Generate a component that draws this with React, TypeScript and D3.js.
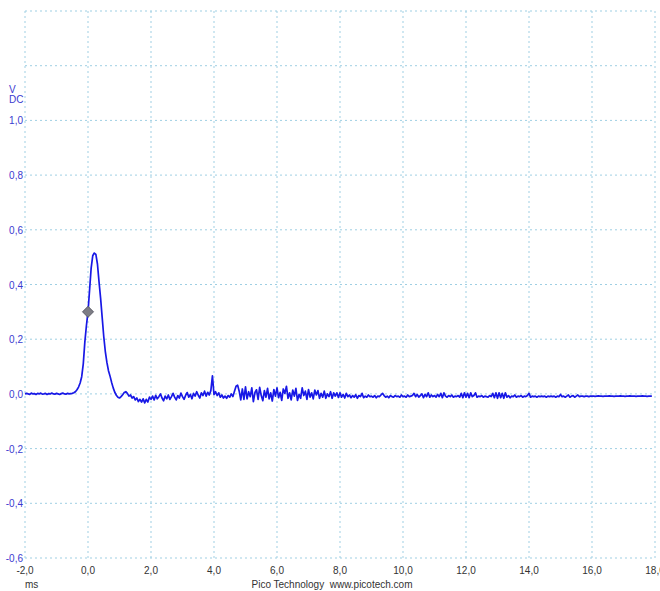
import React from "react";
import * as d3 from "d3";

// Oscilloscope trace (Pico Technology) — time in ms, voltage in V DC
const sampleStart = -2.0; // ms
const sampleStep = 0.05; // ms
const voltage: number[] = [
  // -2.0 .. -1.05
  0, 0.002, 0, -0.002, 0.003, 0, 0.001, -0.002, 0.002, 0, 0.003, -0.001, 0, 0.002, -0.002, 0.001, 0, 0.003, 0, -0.001,
  // -1.0 .. -0.05
  0.002, 0, -0.002, 0.001, 0.003, 0, -0.001, 0.002, 0, 0.001, 0.002, 0.004, 0.008, 0.015, 0.025, 0.04, 0.063, 0.11, 0.19, 0.25,
  // 0.0 .. 0.95
  0.3, 0.38, 0.46, 0.505, 0.515, 0.51, 0.475, 0.41, 0.35, 0.28, 0.21, 0.155, 0.115, 0.085, 0.065, 0.042, 0.022, 0.006, -0.005, -0.012,
  // 1.0 .. 1.95
  -0.015, -0.01, -0.003, 0.005, 0.008, 0.002, -0.008, -0.004, -0.015, -0.01, -0.022, -0.015, -0.028, -0.02, -0.03, -0.018, -0.033, -0.02, -0.03, -0.012,
  // 2.0 .. 2.95
  -0.02, -0.008, -0.022, -0.005, -0.018, -0.01, 0.0, -0.015, -0.025, -0.008, -0.018, -0.004, -0.02, -0.01, 0.002, -0.012, -0.022, -0.006, -0.015, 0.003,
  // 3.0 .. 3.95
  -0.01, -0.02, -0.005, 0.005, -0.012, -0.002, -0.018, 0.002, -0.008, 0.008, -0.005, -0.015, 0.004, -0.006, 0.01, -0.008, 0.006, -0.004, 0.012, 0.066,
  // 4.0 .. 4.95
  -0.003, 0.008, -0.006, 0.004, -0.012, -0.004, -0.015, -0.008, -0.016, -0.006, -0.012, 0.0, -0.01, 0.01, 0.028, 0.032, 0.01, -0.022, 0.018, -0.02,
  // 5.0 .. 5.95
  0.026, -0.018, 0.008, -0.01, 0.022, -0.028, 0.005, 0.015, -0.02, 0.024, -0.006, -0.025, 0.012, -0.012, 0.02, -0.018, 0.004, -0.026, 0.016, -0.008,
  // 6.0 .. 6.95
  0.022, -0.014, 0.006, -0.024, 0.018, 0.002, 0.028, -0.016, 0.004, -0.022, 0.014, -0.008, 0.02, -0.024, -0.002, -0.016, 0.022, -0.006, 0.01, -0.02,
  // 7.0 .. 7.95
  0.016, -0.012, 0.004, -0.018, 0.014, -0.004, 0.012, -0.016, 0.002, -0.012, 0.01, -0.016, 0.0, -0.01, 0.008, -0.016, 0.004, -0.008, 0.004, -0.013,
  // 8.0 .. 8.95
  0.004, -0.012, -0.002, -0.015, 0.002, -0.01, -0.004, -0.014, -0.006, -0.012, -0.003, -0.016, -0.006, -0.01, 0.002, -0.014, -0.008, -0.012, -0.004, -0.01,
  // 9.0 .. 9.95
  -0.008, -0.012, -0.006, -0.014, -0.008, -0.01, -0.004, 0.002, -0.006, -0.012, -0.008, -0.014, -0.006, -0.01, -0.012, -0.006, -0.01, -0.008, -0.012, -0.004,
  // 10.0 .. 10.95
  -0.01, -0.008, -0.012, -0.004, -0.01, -0.008, -0.006, 0.002, -0.01, -0.002, -0.012, -0.006, 0.0, -0.014, -0.002, -0.01, 0.004, -0.012, -0.004, -0.01,
  // 11.0 .. 11.95
  -0.006, -0.012, -0.002, -0.01, 0.002, -0.014, 0.004, -0.008, -0.012, -0.006, -0.01, -0.004, -0.012, -0.008, -0.01, -0.006, -0.012, 0.002, -0.014, 0.004,
  // 12.0 .. 12.95
  -0.012, 0.002, -0.014, 0.004, -0.01, -0.006, 0.004, -0.012, -0.008, -0.01, -0.006, -0.012, -0.008, -0.01, -0.012, -0.006, -0.01, 0.002, -0.014, 0.004,
  // 13.0 .. 13.95
  -0.016, 0.004, -0.014, 0.002, -0.016, 0.004, -0.012, -0.006, -0.014, -0.008, -0.01, -0.004, -0.012, -0.008, -0.01, -0.006, -0.012, -0.008, -0.01, -0.006,
  // 14.0 .. 14.95
  0.002, -0.012, -0.008, -0.01, -0.008, -0.012, -0.008, -0.01, -0.008, -0.01, -0.008, -0.012, -0.008, -0.01, -0.008, -0.01, -0.008, -0.012, -0.008, -0.01,
  // 15.0 .. 15.95
  -0.002, -0.01, -0.008, -0.012, -0.008, -0.004, -0.012, -0.008, -0.006, -0.012, -0.008, -0.004, -0.01, -0.008, -0.008, -0.01, -0.008, -0.008, -0.01, -0.008,
  // 16.0 .. 16.95
  -0.008, -0.008, -0.009, -0.008, -0.007, -0.008, -0.008, -0.009, -0.008, -0.008, -0.008, -0.007, -0.008, -0.008, -0.009, -0.008, -0.008, -0.008, -0.007, -0.008,
  // 17.0 .. 17.9
  -0.008, -0.009, -0.008, -0.008, -0.007, -0.008, -0.008, -0.008, -0.009, -0.008, -0.008, -0.008, -0.007, -0.008, -0.008, -0.009, -0.008, -0.008, -0.008,
];

const xTicks = [-2, 0, 2, 4, 6, 8, 10, 12, 14, 16, 18];
const yGrid = [-0.6, -0.4, -0.2, 0, 0.2, 0.4, 0.6, 0.8, 1.0, 1.2, 1.4];
const yLabels = [-0.6, -0.4, -0.2, 0, 0.2, 0.4, 0.6, 0.8, 1.0];
const markerPoint = { t: 0.0, v: 0.3 };
const yUnitLines = ["V", "DC"];
const xUnit = "ms";
const footer = "Pico Technology  www.picotech.com";

const W = 660;
const H = 591;

const fmt = (v: number) => d3.format(".1f")(v).replace(".", ",").replace("−", "-");

export default function App() {
  const x = d3.scaleLinear().domain([-2, 18]).range([25, 655]);
  const y = d3.scaleLinear().domain([-0.6, 1.4]).range([558, 11]);

  const pts: [number, number][] = voltage.map((v, i) => [sampleStart + i * sampleStep, v]);
  const line = d3
    .line<[number, number]>()
    .x((d) => x(d[0]))
    .y((d) => y(d[1]));

  const gridColor = "#9fcfe3";
  const labelBlue = "#3a3ad0";
  const font = "'Liberation Sans', Arial, sans-serif";

  const mx = x(markerPoint.t);
  const my = y(markerPoint.v);
  const r = 5.5;

  return (
    <svg
      width={W}
      height={H}
      style={{ position: "absolute", left: 0, top: 0, background: "#fff" }}
      fontFamily={font}
    >
      <rect x={0} y={0} width={W} height={H} fill="#fff" />
      {/* grid */}
      {xTicks.map((t) => (
        <line
          key={"vx" + t}
          x1={x(t)}
          x2={x(t)}
          y1={y(1.4)}
          y2={y(-0.6)}
          stroke={gridColor}
          strokeWidth={1}
          strokeDasharray="2,3"
        />
      ))}
      {yGrid.map((v) => (
        <line
          key={"hy" + v}
          x1={x(-2)}
          x2={x(18)}
          y1={y(v)}
          y2={y(v)}
          stroke={gridColor}
          strokeWidth={1}
          strokeDasharray="2,3"
        />
      ))}
      {/* y labels */}
      {yLabels.map((v) => (
        <text
          key={"yl" + v}
          x={23}
          y={y(v) + 4}
          textAnchor="end"
          fontSize={10}
          fill={labelBlue}
        >
          {fmt(v)}
        </text>
      ))}
      {yUnitLines.map((s, i) => (
        <text key={s} x={9} y={93 + i * 10} fontSize={10} fill={labelBlue}>
          {s}
        </text>
      ))}
      {/* x labels */}
      {xTicks.map((t) => (
        <text
          key={"xl" + t}
          x={x(t)}
          y={574}
          textAnchor="middle"
          fontSize={10}
          fill="#333"
        >
          {fmt(t)}
        </text>
      ))}
      <text x={25} y={588} fontSize={10} fill="#333">
        {xUnit}
      </text>
      <text x={332} y={588} textAnchor="middle" fontSize={10} fill="#333" style={{ whiteSpace: "pre" }}>
        {footer}
      </text>
      {/* trace */}
      <path d={line(pts) || ""} fill="none" stroke="#1818e6" strokeWidth={1.7} strokeLinejoin="round" />
      {/* marker */}
      <path
        d={`M${mx},${my - r} L${mx + r},${my} L${mx},${my + r} L${mx - r},${my} Z`}
        fill="#7d7d85"
        stroke="#5a5a66"
        strokeWidth={1}
      />
    </svg>
  );
}
